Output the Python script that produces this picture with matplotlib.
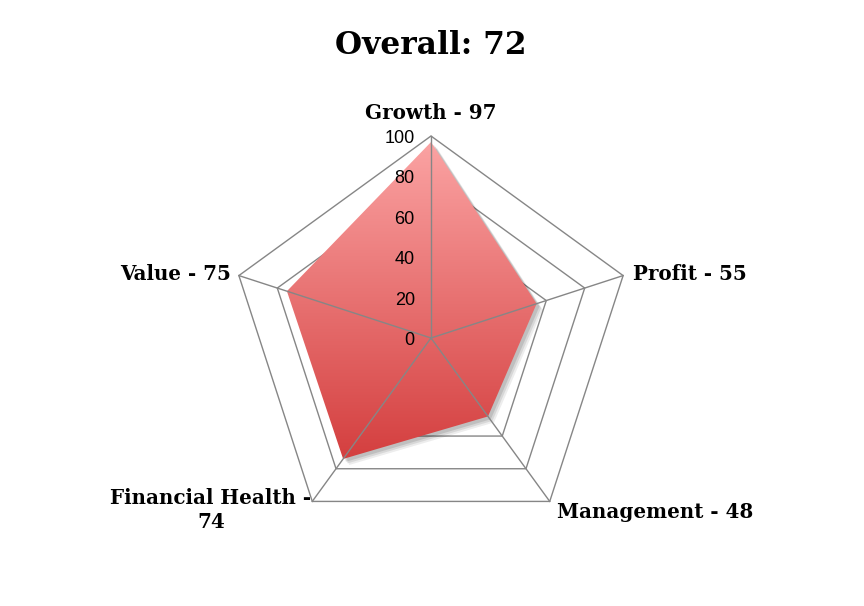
"""Radar chart of stock scores with a gradient-filled polygon."""

import numpy as np
import matplotlib

matplotlib.use("Agg")
import matplotlib.pyplot as plt
from matplotlib.colors import LinearSegmentedColormap
from matplotlib.patches import Polygon

categories = ["Growth", "Profit", "Management", "Financial Health", "Value"]
scores = [97, 55, 48, 74, 75]
overall = 72
ring_levels = [20, 40, 60, 80, 100]
tick_values = [0, 20, 40, 60, 80, 100]

GRID = "#868686"
SERIF = ["DejaVu Serif"]
PX = 2.02  # pixels per data unit
LABEL_SIZE = 14.3

# spokes start at the top and go clockwise
angles = np.pi / 2 - 2 * np.pi * np.arange(len(categories)) / len(categories)


def to_xy(values):
    values = np.asarray(values, dtype=float)
    return values * np.cos(angles), values * np.sin(angles)


fig = plt.figure(figsize=(8.64, 6.06), dpi=100)
ax = fig.add_axes([0, 0, 1, 1])
ax.set_xlim(-431 / PX, (864 - 431) / PX)
ax.set_ylim(-(606 - 338) / PX, 338 / PX)
ax.set_aspect("equal")
ax.axis("off")

# rings sit behind the filled series
for level in ring_levels:
    rx, ry = to_xy([level] * len(categories))
    ax.add_patch(Polygon(np.column_stack([rx, ry]), closed=True, fill=False,
                         edgecolor=GRID, linewidth=1.0, zorder=1))

sx, sy = to_xy(scores)
pts = np.column_stack([sx, sy])

# soft drop shadow
for off, alpha in [(3.0, 0.07), (2.2, 0.09), (1.4, 0.11)]:
    ax.add_patch(Polygon(pts + np.array([off, -off]), closed=True,
                         facecolor="black", edgecolor="none", alpha=alpha, zorder=2))

# vertical gradient clipped to the series polygon
cmap = LinearSegmentedColormap.from_list("redgrad", ["#D43F3F", "#FBA3A3"])
shape = Polygon(pts, closed=True, facecolor="none", edgecolor="none", zorder=3)
ax.add_patch(shape)
grad = np.linspace(0, 1, 256).reshape(-1, 1)
img = ax.imshow(grad, cmap=cmap, origin="lower", aspect="auto",
                extent=[sx.min(), sx.max(), sy.min(), sy.max()], zorder=3)
img.set_clip_path(shape)

# spokes drawn over the fill
for xe, ye in zip(*to_xy([100] * len(categories))):
    ax.plot([0, xe], [0, ye], color=GRID, linewidth=1.0, zorder=4)

# value ticks along the top spoke
for v in tick_values:
    ax.text(-8.0, v - 1.2, str(v), ha="right", va="center", fontsize=13,
            family=["Liberation Sans"], zorder=5)

# category labels
label_text = [f"{c} - {s}" for c, s in zip(categories, scores)]
label_text[3] = f"{categories[3]} -\n{scores[3]}"
ax.text(0, 111.5, label_text[0], ha="center", va="center", fontsize=LABEL_SIZE,
        fontweight="bold", family=SERIF)
ax.text((633 - 431) / PX, (338 - 274) / PX, label_text[1], ha="left", va="center",
        fontsize=LABEL_SIZE, fontweight="bold", family=SERIF)
ax.text((557 - 431) / PX, (338 - 512) / PX, label_text[2], ha="left", va="center",
        fontsize=LABEL_SIZE, fontweight="bold", family=SERIF)
ax.text((211 - 431) / PX, (338 - 510) / PX, label_text[3], ha="center", va="center",
        multialignment="center", fontsize=LABEL_SIZE, fontweight="bold", family=SERIF,
        linespacing=1.3)
ax.text((231 - 431) / PX, (338 - 274) / PX, label_text[4], ha="right", va="center",
        fontsize=LABEL_SIZE, fontweight="bold", family=SERIF)

ax.text(0, (338 - 45) / PX, f"Overall: {overall}", ha="center", va="center",
        fontsize=22.5, fontweight="bold", family=SERIF)

fig.savefig("out.png", dpi=100)
